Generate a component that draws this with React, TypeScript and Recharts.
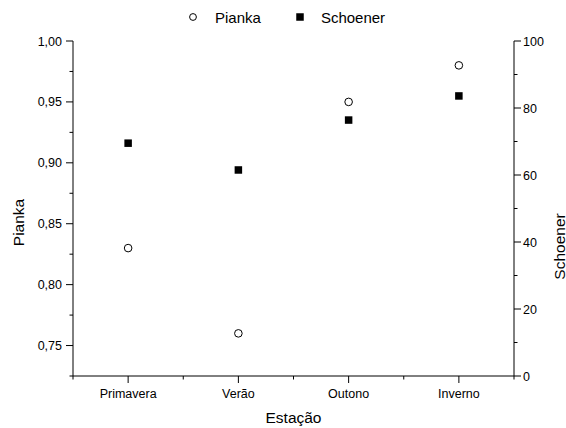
import { ComposedChart, Scatter, XAxis, YAxis } from "recharts";

const seasons = ["Primavera", "Verão", "Outono", "Inverno"];
const pianka = [0.83, 0.76, 0.95, 0.98];
const schoener = [69.5, 61.5, 76.4, 83.6];
const piankaTicks = [0.725, 0.75, 0.775, 0.8, 0.825, 0.85, 0.875, 0.9, 0.925, 0.95, 0.975, 1];
const schoenerTicks = [0, 10, 20, 30, 40, 50, 60, 70, 80, 90, 100];

const data = seasons.map((s, i) => ({ season: s, pianka: pianka[i], schoener: schoener[i] }));

const W = 566;
const H = 428;
const LEFT_W = 73;
const RIGHT_W = 52;
const TOP = 41;
const X_H = 52;
const band = (W - LEFT_W - RIGHT_W) / seasons.length;
const font = '"Liberation Sans", Arial, sans-serif';
const ink = "#000";

function XTick(props: any) {
  const { x, y, payload, index } = props;
  const axisY = y - 10;
  const cx = payload.coordinate;
  return (
    <g>
      <line x1={cx} x2={cx} y1={axisY} y2={axisY + 7} stroke={ink} />
      <line x1={cx - band / 2} x2={cx - band / 2} y1={axisY} y2={axisY + 3.5} stroke={ink} />
      {index === seasons.length - 1 ? (
        <line x1={cx + band / 2} x2={cx + band / 2} y1={axisY} y2={axisY + 3.5} stroke={ink} />
      ) : null}
      <text x={x} y={y + 11.5} textAnchor="middle" fontSize={12.5} fontFamily={font} fill={ink}>
        {payload.value}
      </text>
    </g>
  );
}

function LeftTick(props: any) {
  const { x, y, payload } = props;
  const axisX = x + 11;
  const major = Math.round(payload.value * 1000) % 50 === 0;
  return (
    <g>
      <line x1={axisX - (major ? 7 : 3.5)} x2={axisX} y1={y} y2={y} stroke={ink} />
      {major ? (
        <text x={x} y={y + 4.5} textAnchor="end" fontSize={12.5} fontFamily={font} fill={ink}>
          {payload.value.toFixed(2).replace(".", ",")}
        </text>
      ) : null}
    </g>
  );
}

function RightTick(props: any) {
  const { x, y, payload } = props;
  const axisX = x - 9;
  const major = payload.value % 20 === 0;
  return (
    <g>
      <line x1={axisX} x2={axisX + (major ? 7 : 3.5)} y1={y} y2={y} stroke={ink} />
      {major ? (
        <text x={x} y={y + 4.5} textAnchor="start" fontSize={12.5} fontFamily={font} fill={ink}>
          {payload.value}
        </text>
      ) : null}
    </g>
  );
}

const circleShape = (p: any) => <circle cx={p.cx} cy={p.cy} r={3.8} fill="#fff" stroke={ink} strokeWidth={1} />;
const squareShape = (p: any) => <rect x={p.cx - 3.75} y={p.cy - 3.75} width={7.5} height={7.5} fill={ink} />;

export default function App() {
  return (
    <div style={{ position: "relative", width: W, height: H, fontFamily: font, background: "#fff" }}>
      <style>{"body{margin:0}"}</style>
      <div style={{ position: "absolute", top: 8, left: 189, height: 18, display: "flex", alignItems: "center", fontSize: 15, color: ink }}>
        <svg width={8} height={8} style={{ marginRight: 18 }}>
          <circle cx={4} cy={4} r={3.4} fill="#fff" stroke={ink} />
        </svg>
        <span style={{ marginRight: 35 }}>Pianka</span>
        <svg width={8} height={8} style={{ marginRight: 17 }}>
          <rect x={0.25} y={0.25} width={7.5} height={7.5} fill={ink} />
        </svg>
        <span>Schoener</span>
      </div>
      <ComposedChart width={W} height={H} data={data} margin={{ top: TOP, right: 0, bottom: 0, left: 0 }}>
        <XAxis
          dataKey="season"
          type="category"
          scale="band"
          height={X_H}
          axisLine={{ stroke: ink }}
          tickLine={false}
          tickSize={7}
          tickMargin={3}
          interval={0}
          tick={<XTick />}
          label={(p: any) => (
            <text x={LEFT_W + band * 2} y={H - 5} textAnchor="middle" fontSize={15.5} fontFamily={font} fill={ink}>
              Estação
            </text>
          )}
        />
        <YAxis
          yAxisId="left"
          orientation="left"
          width={LEFT_W}
          domain={[0.725, 1]}
          ticks={piankaTicks}
          interval={0}
          axisLine={{ stroke: ink }}
          tickLine={false}
          tickSize={7}
          tickMargin={4}
          tick={<LeftTick />}
          label={(p: any) => {
            const vb = p.viewBox;
            const cy = vb.y + vb.height / 2 + 14;
            return (
              <text x={18} y={cy} transform={`rotate(-90 18 ${cy})`} textAnchor="middle" dominantBaseline="central" fontSize={15.5} fontFamily={font} fill={ink}>
                Pianka
              </text>
            );
          }}
        />
        <YAxis
          yAxisId="right"
          orientation="right"
          width={RIGHT_W}
          domain={[0, 100]}
          ticks={schoenerTicks}
          interval={0}
          axisLine={{ stroke: ink }}
          tickLine={false}
          tickSize={7}
          tickMargin={2}
          tick={<RightTick />}
          label={(p: any) => {
            const vb = p.viewBox;
            const cy = vb.y + vb.height / 2 + 38;
            const cx = W - 7;
            return (
              <text x={cx} y={cy} transform={`rotate(-90 ${cx} ${cy})`} textAnchor="middle" dominantBaseline="central" fontSize={15.5} fontFamily={font} fill={ink}>
                Schoener
              </text>
            );
          }}
        />
        <Scatter yAxisId="left" dataKey="pianka" shape={circleShape} isAnimationActive={false} />
        <Scatter yAxisId="right" dataKey="schoener" shape={squareShape} isAnimationActive={false} />
      </ComposedChart>
    </div>
  );
}
